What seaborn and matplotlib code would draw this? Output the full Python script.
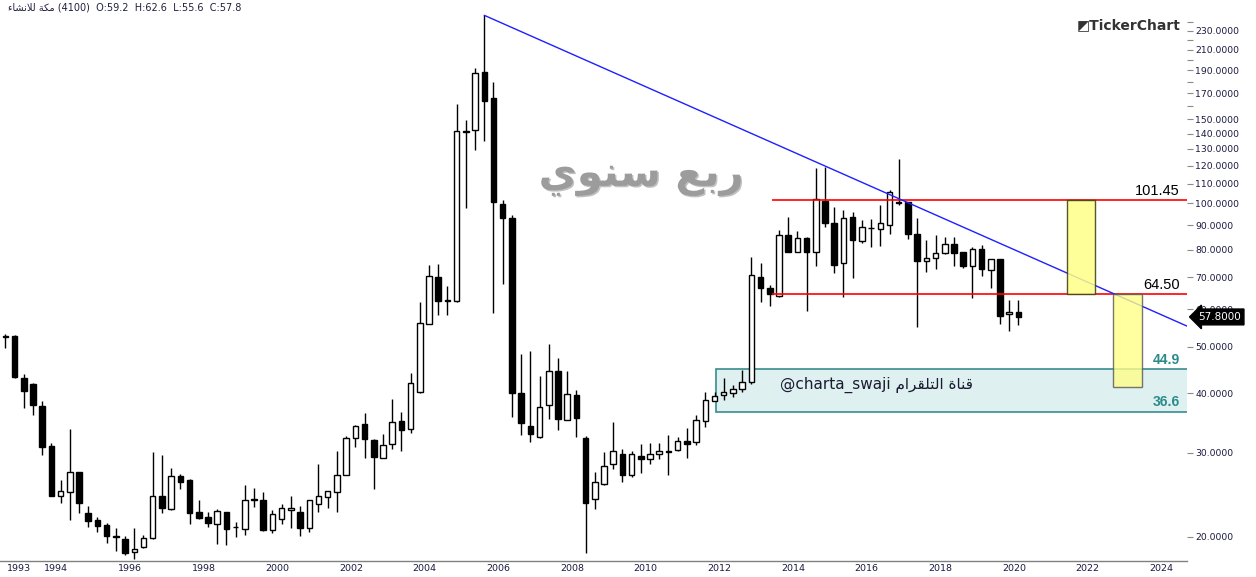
import numpy as np
import pandas as pd
import matplotlib
matplotlib.use("Agg")
import matplotlib.pyplot as plt
import matplotlib.patheffects as pe
from matplotlib import transforms
from matplotlib.patches import Rectangle
from matplotlib.ticker import FixedLocator, NullFormatter
import seaborn as sns

# Quarterly candles, 1993 Q1 .. 2020 Q3
opens = [52.6, 52.7, 43.0, 41.8, 37.6, 31.0, 24.4, 24.8, 27.3, 22.4, 21.7, 21.2,
         20.1, 19.8, 18.6, 19.0, 19.85, 24.35, 22.9, 26.8, 26.3, 22.5, 22.0, 21.3,
         22.5, 21.0, 20.8, 24.0, 23.85, 20.7, 21.8, 22.8, 22.6, 20.9, 23.4, 24.2,
         24.85, 27.0, 32.2, 34.4, 31.9, 29.3, 31.25, 35.0, 33.6, 40.2, 55.8, 70.2,
         62.4, 62.5, 141.8, 142.2, 188.7, 166.2, 99.7, 93.0, 40.1, 34.2, 32.4, 37.7,
         44.6, 35.1, 39.6, 32.2, 24.0, 25.8, 28.4, 29.9, 27.0, 29.6, 29.1, 29.9,
         30.3, 30.4, 31.7, 31.55, 35.0, 38.6, 39.6, 40.1, 40.75, 42.15, 70.1, 66.5,
         63.8, 85.7, 79.1, 84.8, 78.9, 101.3, 90.9, 75.1, 93.5, 83.4, 88.9, 88.2,
         89.9, 100.8, 100.5, 86.1, 75.7, 76.7, 78.8, 82.05, 79.0, 74.0, 80.1, 72.4,
         76.3, 58.5, 59.2]
highs = [53.3, 52.9, 43.9, 42.1, 38.5, 31.4, 26.3, 33.7, 27.4, 23.2, 22.0, 21.4,
         20.9, 20.1, 20.9, 20.2, 30.1, 29.7, 27.9, 27.1, 26.4, 23.9, 22.5, 22.9,
         22.6, 21.5, 25.7, 25.3, 24.8, 22.8, 23.4, 24.3, 23.2, 23.9, 28.4, 25.0,
         30.3, 32.5, 34.3, 36.4, 32.1, 32.9, 38.9, 36.6, 44.2, 62.2, 74.1, 74.5,
         67.1, 161.5, 149.5, 191.8, 247.8, 179.8, 101.6, 94.5, 48.3, 49.0, 43.45, 50.7,
         47.4, 44.6, 40.6, 32.6, 27.3, 30.1, 34.8, 30.6, 30.3, 31.25, 31.4, 31.4,
         32.7, 32.4, 33.8, 36.0, 40.2, 40.2, 43.0, 41.7, 44.7, 77.2, 74.9, 67.4,
         87.9, 93.5, 87.4, 84.9, 118.75, 119.3, 98.4, 96.8, 96.0, 92.3, 92.7, 99.2,
         106.6, 123.8, 100.6, 93.0, 83.8, 85.8, 84.9, 84.9, 79.0, 80.9, 81.8, 76.3,
         76.4, 62.7, 62.6]
lows = [49.8, 43.0, 37.3, 36.0, 29.7, 24.3, 23.5, 21.7, 22.4, 21.0, 20.5, 19.4,
        18.7, 18.3, 18.0, 18.95, 19.8, 22.4, 22.8, 25.2, 21.3, 21.85, 21.0, 19.3,
        19.2, 20.0, 20.2, 23.1, 20.6, 20.4, 21.3, 20.9, 20.1, 20.5, 22.5, 23.0,
        22.5, 26.9, 30.8, 29.2, 25.2, 29.2, 30.5, 30.3, 33.05, 40.0, 55.8, 58.3,
        58.3, 62.2, 97.9, 129.3, 135.3, 59.0, 67.7, 35.7, 32.7, 31.65, 32.3, 35.4,
        33.5, 35.1, 32.4, 18.5, 22.9, 25.7, 27.8, 26.1, 26.7, 27.2, 28.4, 29.1,
        26.95, 30.2, 29.2, 31.15, 34.0, 38.6, 38.8, 39.2, 40.2, 41.8, 62.2, 61.0,
        63.7, 79.0, 79.0, 59.55, 74.0, 89.3, 71.3, 63.5, 69.8, 82.7, 81.1, 81.5,
        86.1, 99.2, 84.2, 55.1, 71.9, 72.8, 78.3, 73.9, 73.3, 63.4, 70.4, 66.35,
        55.8, 54.1, 55.6]
closes = [52.4, 43.2, 40.4, 37.7, 30.9, 24.4, 24.9, 27.4, 23.5, 21.6, 21.1, 20.1,
          20.0, 18.5, 18.9, 19.85, 24.35, 23.0, 26.8, 26.1, 22.4, 21.9, 21.4, 22.65,
          20.8, 20.95, 23.85, 23.9, 20.7, 22.3, 22.95, 23.0, 20.9, 23.85, 24.35, 24.9,
          27.0, 32.2, 34.2, 32.0, 29.4, 31.1, 34.75, 33.5, 41.95, 56.0, 70.4, 62.5,
          62.6, 141.8, 141.4, 187.3, 164.1, 100.8, 93.3, 40.0, 34.6, 32.8, 37.5, 44.6,
          35.4, 39.8, 35.5, 23.5, 26.0, 28.2, 30.3, 26.9, 29.8, 29.1, 29.9, 30.3,
          30.1, 31.7, 31.3, 35.1, 38.8, 39.4, 40.2, 40.9, 42.15, 70.6, 66.35, 64.5,
          85.7, 79.1, 84.6, 78.9, 102.0, 90.8, 74.4, 93.0, 83.65, 89.3, 88.8, 90.8,
          105.45, 100.0, 86.1, 75.8, 76.7, 78.6, 82.05, 78.8, 73.9, 80.1, 72.7, 76.3,
          58.1, 59.1, 57.8]

year_ticks = [1993, 1994, 1996, 1998, 2000, 2002, 2004, 2006, 2008, 2010,
              2012, 2014, 2016, 2018, 2020, 2022, 2024]
price_ticks = [20, 30, 40, 50, 60, 70, 80, 90, 100, 110, 120, 130, 140, 150,
               170, 190, 210, 230]
price_minor = [160, 180, 200, 220, 240]

# drawn levels / tools
resistance = 101.45
support = 64.50
zone_top, zone_bottom = 44.9, 36.6
target_low = 41.3
trend_x = [52, 128.3]          # candle index
trend_y = [247.8, 55.3]

# ---- Arabic display helper (matplotlib has no shaping / bidi) ----
FORMS = {
    "ء": ("\uFE80", None, None, None),
    "ا": ("\uFE8D", "\uFE8E", None, None),
    "ب": ("\uFE8F", "\uFE90", "\uFE91", "\uFE92"),
    "ة": ("\uFE93", "\uFE94", None, None),
    "ت": ("\uFE95", "\uFE96", "\uFE97", "\uFE98"),
    "ر": ("\uFEAD", "\uFEAE", None, None),
    "س": ("\uFEB1", "\uFEB2", "\uFEB3", "\uFEB4"),
    "ش": ("\uFEB5", "\uFEB6", "\uFEB7", "\uFEB8"),
    "ع": ("\uFEC9", "\uFECA", "\uFECB", "\uFECC"),
    "ق": ("\uFED5", "\uFED6", "\uFED7", "\uFED8"),
    "ك": ("\uFED9", "\uFEDA", "\uFEDB", "\uFEDC"),
    "ل": ("\uFEDD", "\uFEDE", "\uFEDF", "\uFEE0"),
    "م": ("\uFEE1", "\uFEE2", "\uFEE3", "\uFEE4"),
    "ن": ("\uFEE5", "\uFEE6", "\uFEE7", "\uFEE8"),
    "و": ("\uFEED", "\uFEEE", None, None),
    "ي": ("\uFEF1", "\uFEF2", "\uFEF3", "\uFEF4"),
}
LAM_ALEF = ("\uFEFB", "\uFEFC", None, None)


def shape_word(word):
    letters = []
    i = 0
    while i < len(word):
        if word[i:i + 2] == "لا":
            letters.append(LAM_ALEF)
            i += 2
        else:
            letters.append(FORMS[word[i]])
            i += 1
    out = []
    for k, f in enumerate(letters):
        prev_j = k > 0 and letters[k - 1][2] is not None and f[1] is not None
        next_j = (k + 1 < len(letters) and f[2] is not None
                  and letters[k + 1][1] is not None)
        if prev_j and next_j:
            out.append(f[3])
        elif prev_j:
            out.append(f[1])
        elif next_j:
            out.append(f[2])
        else:
            out.append(f[0])
    return "".join(reversed(out))


def ar(text):
    return " ".join(shape_word(w) for w in reversed(text.split()))


# ---- data frame ----
quarters = pd.period_range("1993Q1", periods=len(closes), freq="Q")
df = pd.DataFrame({"quarter": quarters, "open": opens, "high": highs,
                   "low": lows, "close": closes})
df["x"] = np.arange(len(df))
df["up"] = df["close"] >= df["open"]

sns.set_theme(style="white")
plt.rcParams["font.family"] = ["DejaVu Sans"]

fig = plt.figure(figsize=(12.56, 5.77), dpi=100)
ax = fig.add_axes([0, 1 - 561 / 577, 1187 / 1256, 561 / 577])
ax.set_facecolor("white")

# support zone (behind candles)
ax.add_patch(Rectangle((77.2, zone_bottom), 60, zone_top - zone_bottom,
                       facecolor="#dff0f0", edgecolor="#3a8c8c", lw=1.2, zorder=1))

# candles
ax.vlines(df["x"], df["low"], df["high"], color="black", lw=1, zorder=2)
body_lo = df[["open", "close"]].min(axis=1)
body_h = (df["close"] - df["open"]).abs()
ax.bar(df["x"], body_h, bottom=body_lo, width=0.6,
       color=np.where(df["up"], "white", "black"), edgecolor="black",
       linewidth=1, zorder=3)

# horizontal levels
ax.hlines([resistance, support], 83.25, 130, colors="red", lw=1.2, zorder=4)

# trend line
sns.lineplot(x=trend_x, y=trend_y, color="#1f1fff", lw=1, ax=ax, zorder=5)

# projection boxes
ax.add_patch(Rectangle((115.3, support), 3.0, resistance - support,
                       facecolor="#ffff88", edgecolor="#3a3a10", lw=1,
                       alpha=0.85, zorder=6))
ax.add_patch(Rectangle((120.3, target_low), 3.1, support - target_low,
                       facecolor="#ffff88", edgecolor="#555555", lw=1,
                       alpha=0.8, zorder=6))

ax.set_yscale("log")
ax.set_ylim(17.8, 266.8)
ax.set_xlim(-0.58, 128.3)

# right price axis
ax.yaxis.tick_right()
ax.yaxis.set_major_locator(FixedLocator(price_ticks))
ax.yaxis.set_minor_locator(FixedLocator(price_minor))
ax.yaxis.set_minor_formatter(NullFormatter())
ax.set_yticklabels([f"{v:.4f}" for v in price_ticks])
ax.tick_params(axis="y", which="both", direction="out", length=4, width=0.8,
               color="#8a8a8a", labelsize=6.7, labelcolor="#1a1a40", pad=2,
               right=True, left=False)

# bottom time axis
ax.set_xticks([(y - 1993) * 4 for y in year_ticks])
ax.set_xticklabels([str(y) for y in year_ticks])
ax.tick_params(axis="x", direction="in", length=6, width=0.8, color="#9a9a9a",
               labelsize=6.8, labelcolor="#1a1a40", pad=2)
shift = transforms.ScaledTranslation(2 / 100, 0, fig.dpi_scale_trans)
for lab in ax.get_xticklabels():
    lab.set_horizontalalignment("left")
    lab.set_transform(lab.get_transform() + shift)

for side in ["top", "left", "right"]:
    ax.spines[side].set_visible(False)
ax.spines["bottom"].set_color("#808080")
ax.spines["bottom"].set_linewidth(1)
ax.grid(False)

# level labels
ax.text(127.5, resistance * 1.012, "101.45", ha="right", va="bottom",
        fontsize=10.5, family=["Liberation Sans"], color="black", zorder=7)
ax.text(127.5, support * 1.012, "64.50", ha="right", va="bottom",
        fontsize=10.5, family=["Liberation Sans"], color="black", zorder=7)
ax.text(127.5, zone_top * 1.012, "44.9", ha="right", va="bottom", fontsize=10,
        family=["Liberation Sans"], weight="bold", color="#2b8a8a", zorder=7)
ax.text(127.5, zone_bottom * 1.012, "36.6", ha="right", va="bottom", fontsize=10,
        family=["Liberation Sans"], weight="bold", color="#2b8a8a", zorder=7)

# watermark / channel text
ax.text(84.1, 41.6, "@charta_swaji " + ar("قناة التلقرام"), ha="left",
        va="center", fontsize=11, color="#1b1b33", zorder=7)
ax.text(69.0, 114.6, ar("ربع سنوي"), ha="center", va="center", fontsize=30,
        weight="bold", color="#9c9c9c", zorder=7,
        path_effects=[pe.withSimplePatchShadow(offset=(1, -1),
                                               shadow_rgbFace="#666666",
                                               alpha=0.4)])

# last price tag (drawn over the 60 label, as in the terminal)
tag_tr = transforms.blended_transform_factory(ax.transAxes, ax.transData)
ax.text(1.0095, closes[-1], f"{closes[-1]:.4f}", transform=tag_tr, ha="left",
        va="center", fontsize=7.5, color="white", zorder=10, clip_on=False,
        bbox=dict(boxstyle="larrow,pad=0.28", fc="black", ec="black"))

# header and logo
fig.text(8 / 1256, 1 - 7 / 577,
         ar("مكة للانشاء") + " (4100)  O:59.2  H:62.6  L:55.6  C:57.8",
         ha="left", va="center", fontsize=7, color="#202040")
fig.text(1077 / 1256, 1 - 25 / 577, "\u25E9TickerChart", ha="left", va="center",
         fontsize=10, weight="bold", color="#333333")

fig.savefig("out.png", dpi=100)
